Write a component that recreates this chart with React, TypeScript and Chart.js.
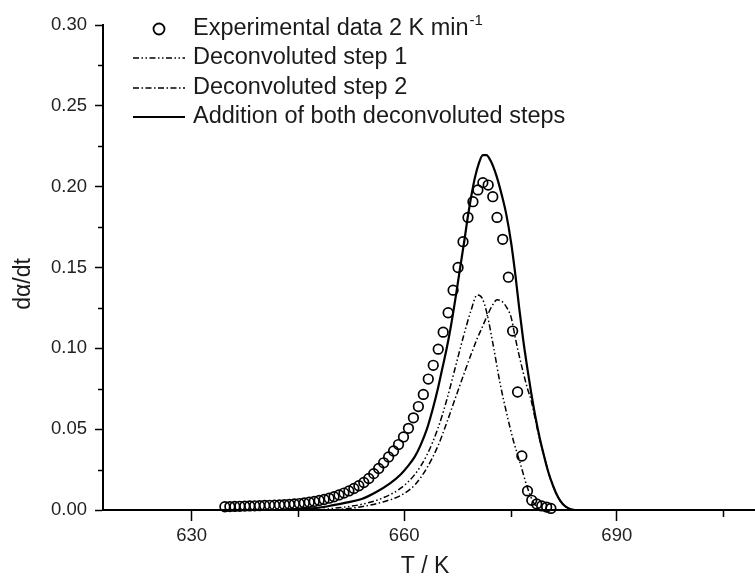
import { useEffect, useRef } from 'react';
import { Chart, registerables } from 'chart.js';

Chart.register(...registerables);

const FONT = '"Liberation Sans", Arial, Helvetica, sans-serif';

// ---------- data ----------
const expT = [
  634.7, 635.4, 636.1, 636.8, 637.5, 638.2, 638.9, 639.6, 640.3, 641.0,
  641.7, 642.4, 643.1, 643.8, 644.5, 645.2, 645.9, 646.6, 647.3, 648.0,
  648.7, 649.4, 650.1, 650.8, 651.5, 652.2, 652.9, 653.6, 654.3, 655.0,
  655.7, 656.4, 657.1, 657.8, 658.5, 659.2, 659.9, 660.6, 661.3, 662.0,
  662.7, 663.4, 664.1, 664.8, 665.5, 666.2, 666.9, 667.6, 668.3, 669.0,
  669.7, 670.4, 671.1, 671.85, 672.5, 673.1, 673.9, 674.7, 675.3, 676.0,
  676.6, 677.4, 678.0, 678.7, 679.4, 680.1, 680.7,
];
const expRate = [
  0.0020, 0.0021, 0.0022, 0.0023, 0.0024, 0.0025, 0.0026, 0.0027, 0.0028, 0.0029,
  0.0030, 0.0031, 0.0033, 0.0035, 0.0037, 0.0040, 0.0044, 0.0048, 0.0053, 0.0059,
  0.0065, 0.0073, 0.0082, 0.0093, 0.0105, 0.0118, 0.0133, 0.0150, 0.0170, 0.0195,
  0.0225, 0.0257, 0.0292, 0.0328, 0.0365, 0.0405, 0.0452, 0.0505, 0.0570, 0.0640,
  0.0715, 0.0810, 0.0895, 0.0995, 0.1100, 0.1220, 0.1360, 0.1500, 0.1660, 0.1810,
  0.1907, 0.1980, 0.2025, 0.2010, 0.1938, 0.1810, 0.1674, 0.1440, 0.1107, 0.0730,
  0.0334, 0.0118, 0.0060, 0.0037, 0.0025, 0.0018, 0.0010,
];

const step1T = [
  648.0, 650.0, 654.0, 657.0, 659.5, 661.5, 663.2, 664.8, 666.0, 667.2,
  668.4, 669.4, 670.3, 671.0, 671.6, 672.6, 673.5, 674.5, 675.4, 676.3,
  677.3, 678.2, 679.0, 679.8,
];
const step1Rate = [
  0.0, 0.001, 0.0035, 0.0075, 0.0135, 0.022, 0.034, 0.051, 0.068, 0.088,
  0.108, 0.123, 0.133, 0.131, 0.123, 0.101, 0.079, 0.059, 0.043, 0.030,
  0.015, 0.005, 0.001, 0.0,
];

const step2T = [
  650.0, 654.0, 657.0, 659.5, 661.5, 663.2, 664.8, 666.0, 667.2, 668.5,
  669.5, 670.3, 671.1, 671.8, 672.5, 673.1, 673.8, 674.5, 675.1, 675.7,
  676.2, 676.8, 677.4, 677.9, 678.5, 679.1, 679.7, 680.3, 681.0, 681.7,
  682.4, 683.2, 684.0,
];
const step2Rate = [
  0.0, 0.002, 0.005, 0.009, 0.0155, 0.026, 0.040, 0.054, 0.069, 0.085,
  0.097, 0.106, 0.114, 0.121, 0.127, 0.130, 0.129, 0.125, 0.119, 0.106,
  0.096, 0.085, 0.075, 0.068, 0.056, 0.044, 0.034, 0.024, 0.015, 0.008,
  0.0035, 0.001, 0.0,
];

const sumT = [
  642.0, 645.0, 648.0, 650.0, 652.0, 654.0, 656.0, 658.0, 659.5, 660.5,
  661.5, 662.3, 663.2, 664.0, 664.8, 665.4, 666.0, 666.6, 667.2, 667.9,
  668.5, 669.0, 669.5, 670.0, 670.5, 671.1, 671.6, 672.2, 673.0, 673.7,
  674.4, 675.1, 675.7, 676.2, 676.8, 677.4, 677.9, 678.5, 679.1, 679.7,
  680.3, 681.0, 681.7, 682.4, 683.2, 684.0,
];
const sumRate = [
  0.0, 0.0005, 0.0015, 0.003, 0.0047, 0.0068, 0.011, 0.0165, 0.022, 0.027,
  0.033, 0.040, 0.050, 0.062, 0.076, 0.088, 0.100, 0.114, 0.130, 0.150,
  0.167, 0.182, 0.195, 0.206, 0.214, 0.2195, 0.2195, 0.216, 0.207, 0.196,
  0.183, 0.165, 0.145, 0.126, 0.105, 0.087, 0.073, 0.058, 0.045, 0.034,
  0.024, 0.015, 0.008, 0.0035, 0.001, 0.0,
];

const xMajorTicks = [630, 660, 690];
const xMinorTicks = [645, 675, 705];
const yMajorTicks = [0, 0.05, 0.1, 0.15, 0.2, 0.25, 0.3];
const yMinorTicks = [0.025, 0.075, 0.125, 0.175, 0.225, 0.275];
const X_MIN = 617.5;
const X_MAX = 709.5;

const legendLabels = [
  'Experimental data 2 K min',
  'Deconvoluted step 1',
  'Deconvoluted step 2',
  'Addition of both deconvoluted steps',
];
const legendSup = '-1';
const xTitle = 'T / K';
const yTitle = 'd\u03B1/dt';

const DASH1 = [6, 2.5, 1.5, 2.5, 1.5, 2.5];
const DASH2 = [6, 2.5, 1.5, 2.5];

const pts = (xs: number[], ys: number[]) => xs.map((x, i) => ({ x, y: ys[i] }));

const decor = {
  id: 'decor',
  afterDraw(chart: any) {
    const { ctx, chartArea, scales } = chart;
    const x = scales.x;
    const y = scales.y;
    ctx.save();
    // minor ticks
    ctx.strokeStyle = '#000';
    ctx.lineWidth = 1.5;
    ctx.beginPath();
    yMinorTicks.forEach((v) => {
      const py = Math.round(y.getPixelForValue(v)) + 0.5;
      ctx.moveTo(chartArea.left - 5, py);
      ctx.lineTo(chartArea.left, py);
    });
    xMinorTicks.forEach((v) => {
      const px = Math.round(x.getPixelForValue(v)) + 0.5;
      ctx.moveTo(px, chartArea.bottom);
      ctx.lineTo(px, chartArea.bottom + 7);
    });
    ctx.stroke();

    // titles
    ctx.fillStyle = '#1a1a1a';
    ctx.font = `23px ${FONT}`;
    ctx.textAlign = 'center';
    ctx.textBaseline = 'middle';
    ctx.fillText(xTitle, 425, 567);
    ctx.save();
    ctx.translate(24, 284);
    ctx.rotate(-Math.PI / 2);
    ctx.fillText(yTitle, 0, 0);
    ctx.restore();

    // legend
    const rows = [29, 58, 88, 117];
    const sx0 = 133;
    const sx1 = 185;
    const tx = 193;
    ctx.textAlign = 'left';
    ctx.lineWidth = 1.8;
    ctx.beginPath();
    ctx.arc((sx0 + sx1) / 2, rows[0], 5.5, 0, Math.PI * 2);
    ctx.stroke();
    const dashes = [DASH1, DASH2, []];
    const widths = [1.5, 1.5, 2];
    for (let i = 0; i < 3; i++) {
      ctx.beginPath();
      ctx.setLineDash(dashes[i]);
      ctx.lineWidth = widths[i];
      ctx.moveTo(sx0, rows[i + 1]);
      ctx.lineTo(sx1, rows[i + 1]);
      ctx.stroke();
    }
    ctx.setLineDash([]);
    ctx.font = `23.5px ${FONT}`;
    legendLabels.forEach((t, i) => {
      ctx.fillText(t, tx, rows[i]);
    });
    const w0 = ctx.measureText(legendLabels[0]).width;
    ctx.font = `15px ${FONT}`;
    ctx.fillText(legendSup, tx + w0 + 1, rows[0] - 8);
    ctx.restore();
  },
};

export default function App() {
  const ref = useRef<HTMLCanvasElement>(null);
  useEffect(() => {
    if (!ref.current) return;
    const tickFont = { family: FONT, size: 18.5 };
    const chart = new Chart(ref.current, {
      type: 'scatter',
      data: {
        datasets: [
          {
            label: legendLabels[0],
            data: pts(expT, expRate),
            showLine: false,
            pointStyle: 'circle',
            pointRadius: 4.8,
            pointBorderWidth: 1.7,
            borderColor: '#000',
            backgroundColor: 'rgba(0,0,0,0)',
            clip: false,
          } as any,
          {
            label: legendLabels[1],
            data: pts(step1T, step1Rate),
            showLine: true,
            pointRadius: 0,
            borderColor: '#000',
            borderWidth: 1.5,
            borderDash: DASH1,
            cubicInterpolationMode: 'monotone',
          },
          {
            label: legendLabels[2],
            data: pts(step2T, step2Rate),
            showLine: true,
            pointRadius: 0,
            borderColor: '#000',
            borderWidth: 1.5,
            borderDash: DASH2,
            cubicInterpolationMode: 'monotone',
          },
          {
            label: legendLabels[3],
            data: pts(sumT, sumRate),
            showLine: true,
            pointRadius: 0,
            borderColor: '#000',
            borderWidth: 2.2,
            cubicInterpolationMode: 'monotone',
          },
        ],
      },
      options: {
        animation: false,
        responsive: false,
        devicePixelRatio: 1,
        layout: { autoPadding: false, padding: { top: 25, right: 0, left: 0, bottom: 0 } },
        plugins: { legend: { display: false }, tooltip: { enabled: false } },
        scales: {
          x: {
            type: 'linear',
            min: X_MIN,
            max: X_MAX,
            afterBuildTicks: (ax: any) => {
              ax.ticks = xMajorTicks.map((v) => ({ value: v }));
            },
            afterFit: (s: any) => {
              s.height = 72;
              s.paddingLeft = 0;
              s.paddingRight = 0;
            },
            grid: { drawOnChartArea: false, drawTicks: true, tickLength: 11, tickWidth: 1.5, tickColor: '#000' },
            border: { display: true, color: '#000', width: 2 },
            ticks: { font: tickFont, color: '#222', padding: 4, maxRotation: 0, autoSkip: false },
          },
          y: {
            type: 'linear',
            min: 0,
            max: 0.3,
            afterBuildTicks: (ax: any) => {
              ax.ticks = yMajorTicks.map((v) => ({ value: v }));
            },
            afterFit: (s: any) => {
              s.width = 103;
            },
            grid: { drawOnChartArea: false, drawTicks: true, tickLength: 8, tickWidth: 1.5, tickColor: '#000' },
            border: { display: true, color: '#000', width: 2 },
            ticks: {
              font: tickFont,
              color: '#222',
              padding: 8,
              autoSkip: false,
              callback: (v: any) => Number(v).toFixed(2),
            },
          },
        },
      },
      plugins: [decor],
    });
    return () => chart.destroy();
  }, []);
  return (
    <div style={{ position: 'absolute', left: 0, top: 0, width: 755, height: 582, background: '#fff' }}>
      <canvas ref={ref} width={755} height={582} style={{ display: 'block' }} />
    </div>
  );
}
